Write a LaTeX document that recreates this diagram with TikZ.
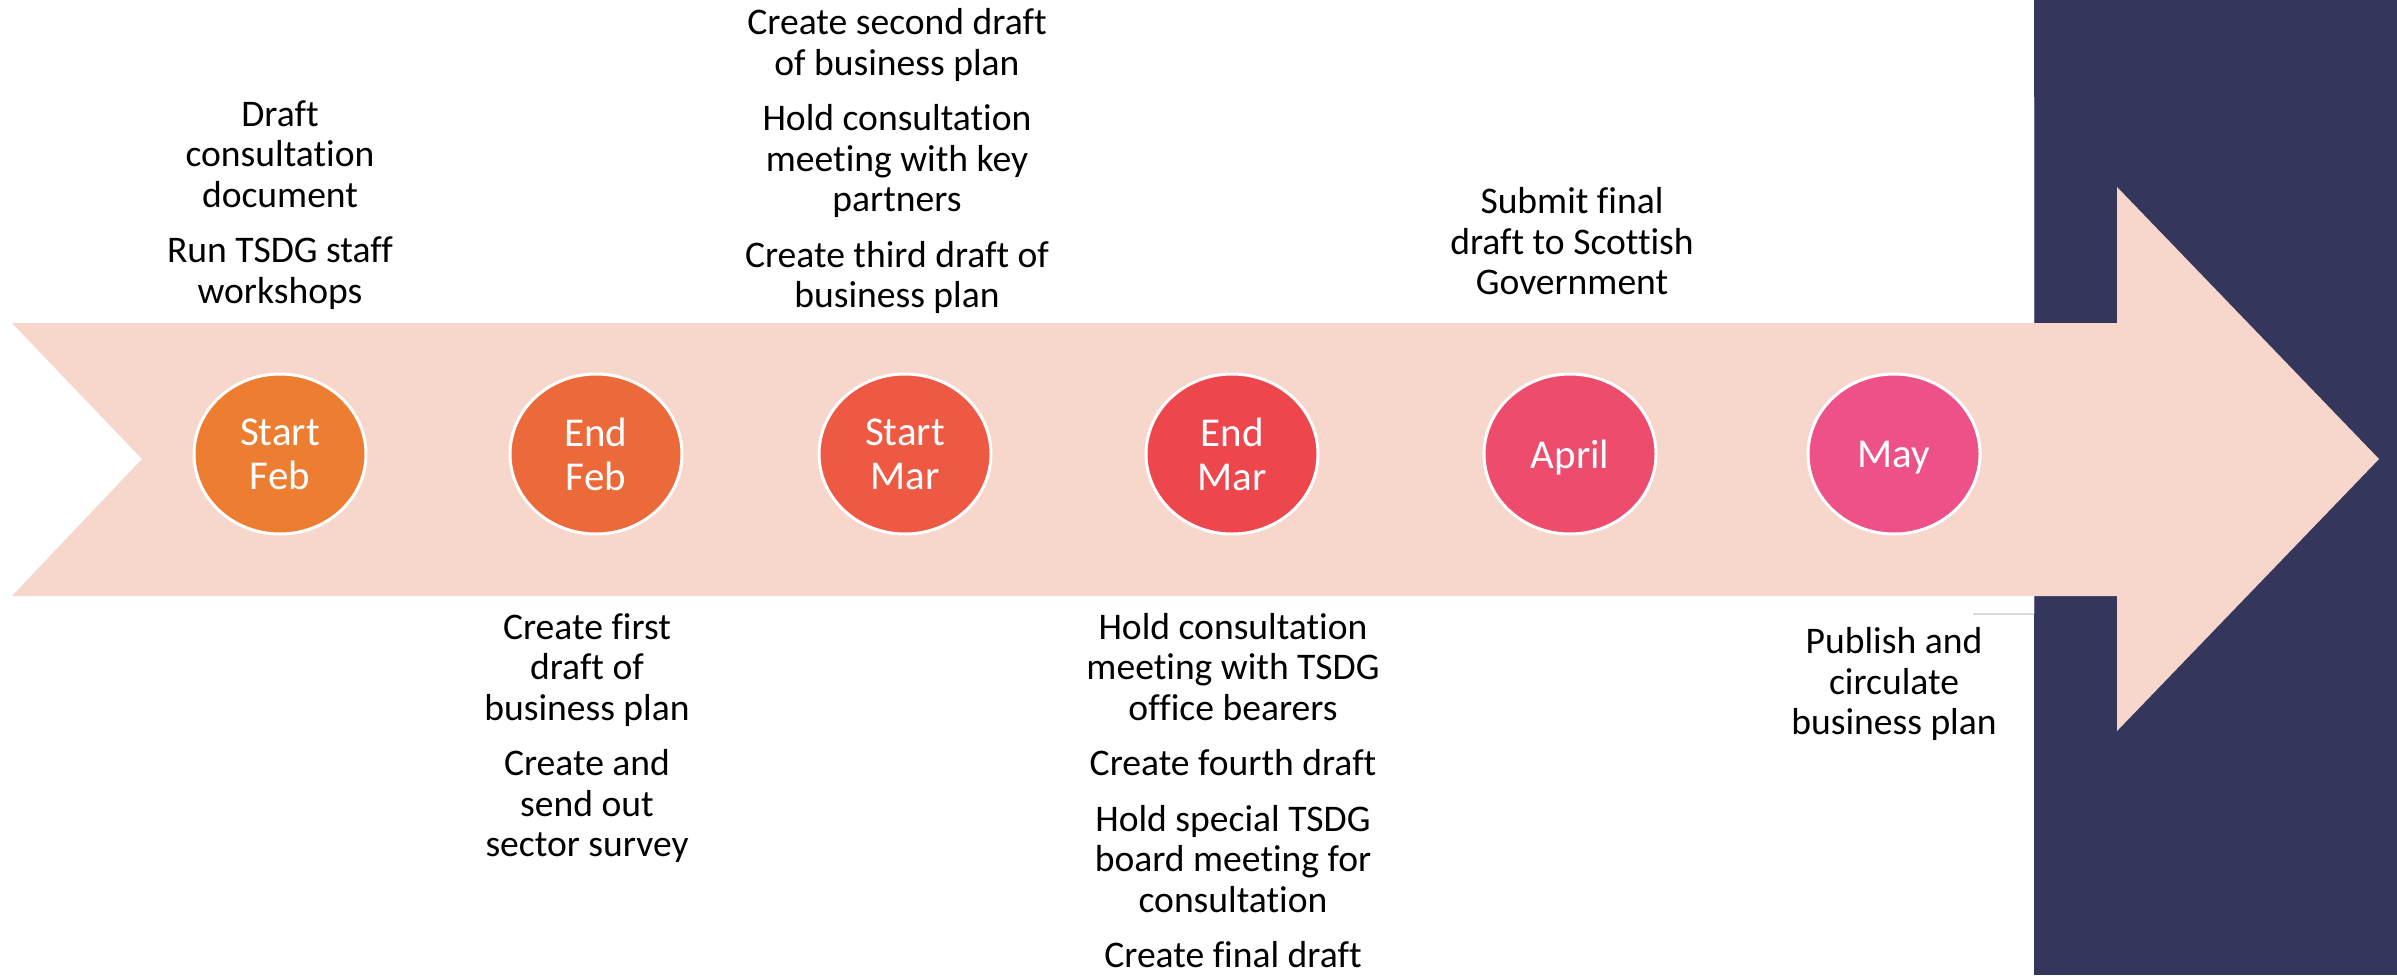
\documentclass[tikz,border=0pt]{standalone}
\usepackage{fontspec}
\setmainfont{Carlito}[Ligatures=NoCommon]
\usetikzlibrary{shapes.geometric}
\definecolor{navy}{HTML}{35365C}
\definecolor{navyedge}{HTML}{6A6B8C}
\definecolor{faint}{HTML}{D9D9E0}
\definecolor{arrowpink}{HTML}{F7D6CB}
\definecolor{cA}{HTML}{ED7D31}
\definecolor{cB}{HTML}{EC6A3A}
\definecolor{cC}{HTML}{ED5943}
\definecolor{cD}{HTML}{EE464D}
\definecolor{cE}{HTML}{ED4C6D}
\definecolor{cF}{HTML}{EE5188}
\begin{document}
\begin{tikzpicture}[x=0.5pt,y=-0.5pt,
  month/.style={ellipse, draw=white, line width=1.5pt, fill=#1,
    minimum width=86pt, minimum height=80pt, inner sep=0pt,
    text=white, align=center, font=\fontsize{20.5}{22}\selectfont},
  task/.style={align=center, inner sep=0pt, text=black,
    font=\fontsize{18.8}{20.25}\selectfont}]
\useasboundingbox (0,0) rectangle (2397,975);
\fill[white] (0,0) rectangle (2397,975);
% dark band on the right
\fill[navy] (2034,0) rectangle (2397,975);
\draw[navyedge, line width=0.75pt] (2034.5,97) -- (2034.5,614);
\draw[faint, line width=0.75pt] (1973,614) -- (2034,614);
% chevron arrow
\fill[arrowpink] (12,323) -- (2117,323) -- (2117,187) -- (2379,459)
  -- (2117,731) -- (2117,596) -- (12,596) -- (142,459) -- cycle;
% month markers
\node[month=cA] (m1) at (280,454) {Start\\Feb};
\node[month=cB] (m2) at (596,454) {End\\Feb};
\node[month=cC] (m3) at (905,454) {Start\\Mar};
\node[month=cD] (m4) at (1232,454) {End\\Mar};
\node[month=cE, text depth=0pt] (m5) at (1570,454) {April};
\node[month=cF, text depth=0pt] (m6) at (1894,454) {May};
% tasks above
\node[task] (t1) at (280,205) {Draft\\consultation\\document\\[7.5pt]Run TSDG staff\\workshops};
\node[task] (t3) at (897,161) {Create second draft\\of business plan\\[7.5pt]Hold consultation\\meeting with key\\partners\\[7.5pt]Create third draft of\\business plan};
\node[task] (t5) at (1572,241.5) {Submit final\\draft to Scottish\\Government};
% tasks below
\node[task] (t2) at (587,738) {Create first\\draft of\\business plan\\[7.5pt]Create and\\send out\\sector survey};
\node[task] (t4) at (1233,790.5) {Hold consultation\\meeting with TSDG\\office bearers\\[7.5pt]Create fourth draft\\[7.5pt]Hold special TSDG\\board meeting for\\consultation\\[7.5pt]Create final draft};
\node[task] (t6) at (1894,684) {Publish and\\circulate\\business plan};
\end{tikzpicture}
\end{document}
